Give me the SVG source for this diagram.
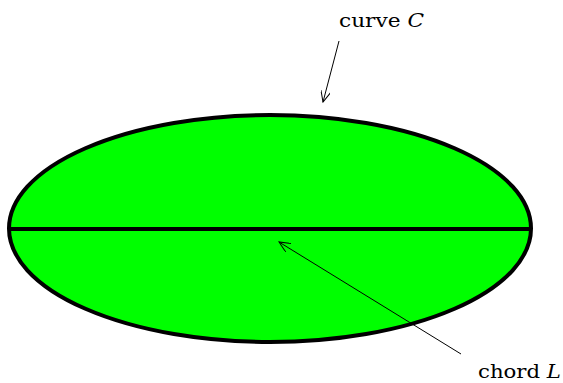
<svg xmlns="http://www.w3.org/2000/svg" width="563" height="383" viewBox="0 0 563 383">
<style>
.lbl{font-family:"DejaVu Serif","Liberation Serif",serif;font-size:19px;fill:#000}
.it{font-style:italic}
.ptr{stroke:#000;stroke-width:1;fill:none;marker-end:url(#v)}
</style>
<defs>
<marker id="v" viewBox="0 0 12 10" refX="11" refY="5" markerWidth="12" markerHeight="10" markerUnits="userSpaceOnUse" orient="auto">
<path d="M0,0 L11,5 L0,10" fill="none" stroke="#000" stroke-width="1"/>
</marker>
</defs>
<g id="region">
<ellipse cx="270" cy="228.5" rx="261" ry="113.5" fill="#00ff00" stroke="#000" stroke-width="4"/>
</g>
<g id="chord">
<line x1="9" y1="229" x2="531" y2="229" stroke="#000" stroke-width="4"/>
</g>
<g id="connectors">
<line class="ptr" x1="339" y1="41" x2="323" y2="102"/>
<line class="ptr" x1="461" y1="354" x2="279" y2="242"/>
</g>
<g id="label-curve">
<text class="lbl" x="339" y="27" textLength="85" lengthAdjust="spacingAndGlyphs">curve <tspan class="it">C</tspan></text>
</g>
<g id="label-chord">
<text class="lbl" x="478" y="378" textLength="83" lengthAdjust="spacingAndGlyphs">chord <tspan class="it">L</tspan></text>
</g>
</svg>
